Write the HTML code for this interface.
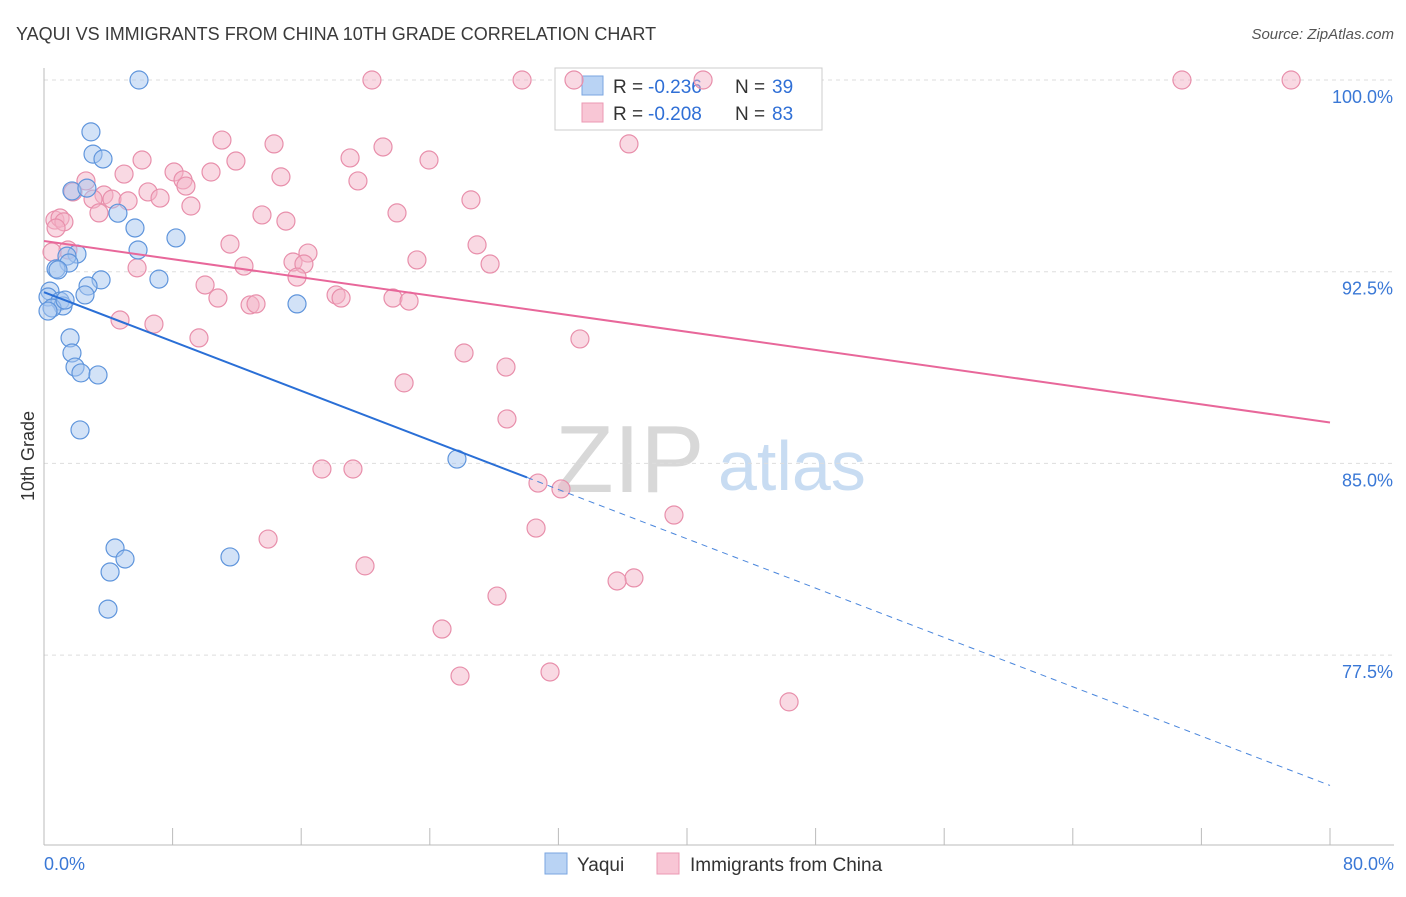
<!DOCTYPE html>
<html><head><meta charset="utf-8">
<style>
body{margin:0;background:#fff;font-family:"Liberation Sans",sans-serif;}
svg text{font-family:"Liberation Sans",sans-serif;}
</style></head>
<body>
<svg id="chart" width="1406" height="892" xmlns="http://www.w3.org/2000/svg">
<text x="16" y="40" font-size="18" fill="#3a3a3a">YAQUI VS IMMIGRANTS FROM CHINA 10TH GRADE CORRELATION CHART</text>
<text x="1394" y="39" font-size="15" fill="#555" font-style="italic" text-anchor="end">Source: ZipAtlas.com</text>
<g>
<text x="555" y="492" font-size="96" fill="#d8d8d8" font-family="Liberation Serif,serif">ZIP</text>
<text x="718" y="490" font-size="70" fill="#c8dcf2">atlas</text>
</g>
<g id="grid"></g>
<g id="axes"></g>
<g>
<rect x="555" y="68" width="267" height="62" fill="#fff" stroke="#ccc"/>
<rect x="582" y="76" width="21" height="19" fill="#b9d3f4" stroke="#7aa6e0"/>
<rect x="582" y="103" width="21" height="19" fill="#f8c6d5" stroke="#eb98b3"/>
<text x="613" y="93" font-size="19" fill="#333">R =</text>
<text x="648" y="93" font-size="19" fill="#2f6fd6">-0.236</text>
<text x="735" y="93" font-size="19" fill="#333">N =</text>
<text x="772" y="93" font-size="19" fill="#2f6fd6">39</text>
<text x="613" y="120" font-size="19" fill="#333">R =</text>
<text x="648" y="120" font-size="19" fill="#2f6fd6">-0.208</text>
<text x="735" y="120" font-size="19" fill="#333">N =</text>
<text x="772" y="120" font-size="19" fill="#2f6fd6">83</text>
</g>
<g id="marks"></g>
<g>
<rect x="545" y="853" width="22" height="21" fill="#b9d3f4" stroke="#7aa6e0"/>
<text x="577" y="871" font-size="19" fill="#333">Yaqui</text>
<rect x="657" y="853" width="22" height="21" fill="#f8c6d5" stroke="#eb98b3"/>
<text x="690" y="871" font-size="19" fill="#333">Immigrants from China</text>
</g>
<text transform="translate(34,456) rotate(-90)" font-size="18" fill="#333" text-anchor="middle">10th Grade</text>
</svg>
<script>
const yTicks=[100,92.5,85,77.5];
const yTickLabels=["100.0%","92.5%","85.0%","77.5%"];
const xTickLabels=["0.0%","80.0%"];
const blueX=[5.91,2.92,3.05,3.67,1.74,2.67,4.60,5.66,8.21,5.85,2.05,1.43,1.55,0.75,0.87,3.55,7.15,2.74,2.55,0.37,0.25,1.00,1.18,0.50,0.25,15.74,1.62,1.74,1.93,2.30,3.36,2.24,25.69,4.42,5.04,4.11,3.98,11.57,1.31];
const blueY=[100,97.97,97.10,96.91,95.66,95.77,94.79,94.21,93.82,93.35,93.19,93.11,92.84,92.61,92.57,92.18,92.21,91.94,91.59,91.74,91.51,91.35,91.16,91.08,90.96,91.24,89.91,89.32,88.77,88.54,88.46,86.31,85.17,81.69,81.26,80.75,79.30,81.34,91.39];
const pinkX=[20.40,29.74,32.97,41.00,70.79,77.58,11.07,14.31,21.09,36.39,19.04,23.95,6.10,11.94,8.09,10.39,4.98,2.61,8.65,19.53,14.74,8.83,6.47,3.73,1.80,4.23,5.23,7.22,3.05,9.14,26.56,13.56,15.05,21.96,3.42,0.68,1.00,1.24,11.57,26.94,16.42,1.49,15.49,23.20,27.75,12.44,5.79,16.17,15.74,10.02,18.17,18.48,10.82,12.82,13.19,21.71,22.71,4.73,6.84,9.64,33.34,26.13,28.74,22.40,28.80,17.29,19.22,30.73,32.16,39.19,30.61,13.94,19.97,36.70,35.65,28.18,24.76,25.88,31.48,46.35,0.50,0.75];
const pinkY=[100,100,100,100,100,100,97.65,97.50,97.38,97.50,96.95,96.87,96.87,96.83,96.40,96.40,96.32,96.05,96.09,96.05,96.21,95.85,95.62,95.50,95.62,95.34,95.27,95.38,95.34,95.07,95.31,94.72,94.48,94.80,94.80,94.52,94.60,94.45,93.58,93.55,93.23,93.35,92.88,92.96,92.80,92.72,92.65,92.80,92.29,91.98,91.59,91.47,91.47,91.20,91.24,91.47,91.35,90.61,90.45,89.91,89.87,89.32,88.77,88.15,86.74,84.78,84.78,84.23,84.00,82.98,82.47,82.04,80.99,80.52,80.40,79.81,78.52,76.68,76.84,75.67,93.27,94.21];
const blueTrend=[91.7,72.4];
const blueSolidEnd=30.05;
const pinkTrend=[93.7,86.6];
const NS="http://www.w3.org/2000/svg";
const sx=v=>44+v/80*1286;
const sy=v=>80+(100-v)*25.56;
function mk(tag,attrs,parent){const e=document.createElementNS(NS,tag);for(const k in attrs)e.setAttribute(k,attrs[k]);parent.appendChild(e);return e;}
const grid=document.getElementById('grid'),axes=document.getElementById('axes'),marks=document.getElementById('marks');
yTicks.forEach((t,i)=>{
 const l=mk('line',{x1:44,x2:1394,y1:sy(t),y2:sy(t),stroke:'#ddd','stroke-dasharray':'4,4'},grid);
 
 
 const tx=mk('text',{x:1393,y:sy(t)+23,'font-size':18,fill:'#3a78d6','text-anchor':'end'},axes);
 tx.textContent=yTickLabels[i];
 
 
});
const ya=mk('line',{x1:44,x2:44,y1:68,y2:845,stroke:'#bbb'},axes);


const xa=mk('line',{x1:44,x2:1394,y1:845,y2:845,stroke:'#bbb'},axes);


for(let v=0;v<=80;v+=8){
 const t=mk('line',{x1:sx(v),x2:sx(v),y1:828,y2:845,stroke:'#bbb'},axes);
 
 
}
[[0,'start',44],[80,'end',1394]].forEach((a,i)=>{
 const tx=mk('text',{x:a[2],y:870,'font-size':18,fill:'#3a78d6','text-anchor':a[1]},axes);
 tx.textContent=xTickLabels[i];
 
 
});
function drawPts(X,Y,fill,stroke,name){
 X.forEach((x,i)=>{
  const c=mk('circle',{cx:sx(x),cy:sy(Y[i]),r:9,fill:fill,'fill-opacity':0.5,stroke:stroke,'stroke-width':1.2},marks);
  
  
 });
}
drawPts(pinkX,pinkY,'#f4b3c7','#e88fab','point-china');
drawPts(blueX,blueY,'#a6c6f0','#5f95dc','point-yaqui');
const bAt=v=>blueTrend[0]+(blueTrend[1]-blueTrend[0])*v/80;
const pAt=v=>pinkTrend[0]+(pinkTrend[1]-pinkTrend[0])*v/80;
const pl=mk('line',{x1:sx(0),y1:sy(pAt(0)),x2:sx(80),y2:sy(pAt(80)),stroke:'#e8679a','stroke-width':2},marks);


const bl=mk('line',{x1:sx(0),y1:sy(bAt(0)),x2:sx(blueSolidEnd),y2:sy(bAt(blueSolidEnd)),stroke:'#2a6fd6','stroke-width':2},marks);


const bd=mk('line',{x1:sx(blueSolidEnd),y1:sy(bAt(blueSolidEnd)),x2:sx(80),y2:sy(bAt(80)),stroke:'#4a86dc','stroke-width':1,'stroke-dasharray':'6,5'},marks);


</script>
</body></html>
